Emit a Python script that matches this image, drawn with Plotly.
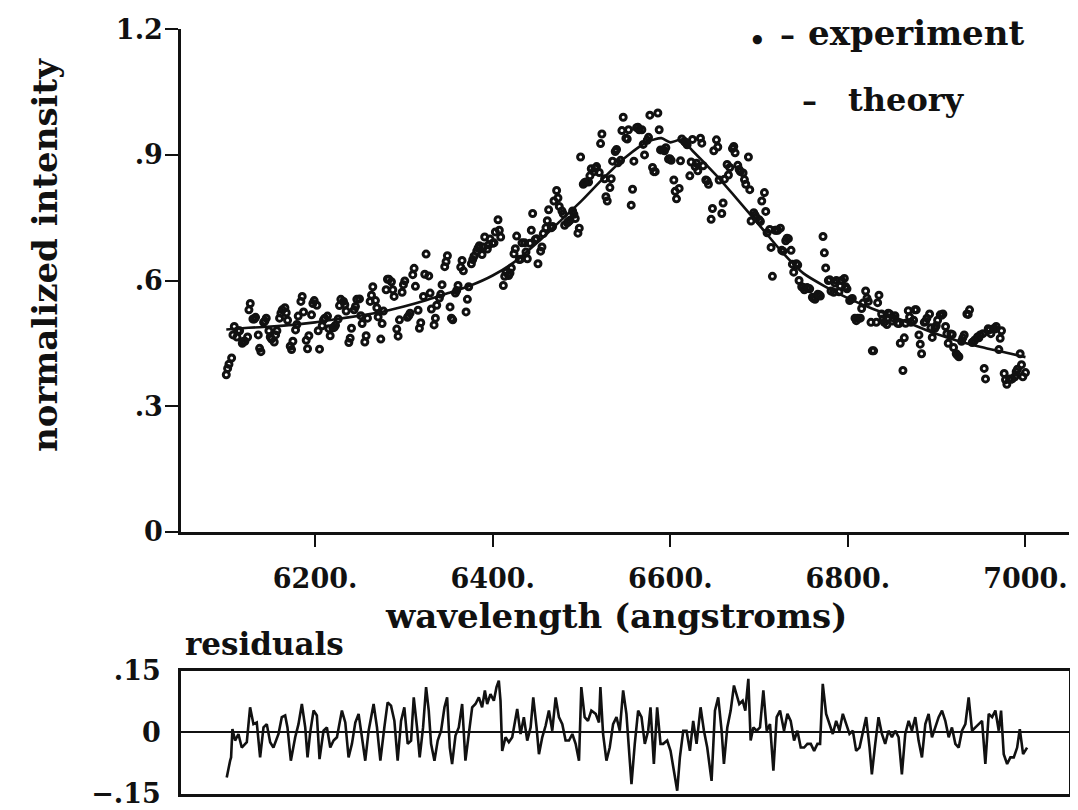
import plotly.graph_objects as go

# ---------------- data ----------------
# experiment (set A): normalized intensity read every 3 angstroms from 6100 to 7000
exp_start = 6100
exp_step = 3
exp_val = [
    .375, .40, .415, .49, .465, .48, .45, .455, .465, .545,
    .508, .512, .47, .43, .50, .51, .48, .46, .453, .48,
    .51, .53, .535, .505, .443, .455, .482, .515, .55, .525,
    .457, .468, .518, .552, .541, .436, .492, .51, .515, .468,
    .487, .493, .508, .555, .55, .527, .452, .486, .53, .555,
    .556, .497, .453, .51, .55, .585, .552, .513, .46, .527,
    .578, .603, .597, .562, .484, .506, .572, .599, .512, .522,
    .614, .586, .529, .499, .562, .663, .611, .532, .494, .541,
    .558, .59, .633, .659, .537, .506, .57, .588, .632, .623,
    .525, .585, .64, .658, .67, .683, .662, .704, .675, .699,
    .689, .716, .745, .704, .588, .62, .612, .63, .664, .706,
    .65, .69, .69, .652, .689, .76, .698, .64, .67, .712,
    .726, .769, .726, .79, .815, .777, .766, .732, .738, .744,
    .766, .748, .713, .895, .83, .835, .835, .867, .86, .872,
    .858, .95, .843, .79, .822, .885, .908, .881, .887, .99,
    .94, .96, .78, .885, .965, .96, .96, .9, .935, .995,
    .87, .86, 1.0, .912, .912, .917, .89, .887, .84, .795,
    .82, .938, .932, .924, .85, .937, .872, .862, .94, .874,
    .84, .83, .746, .91, .936, .84, .76, .842, .877, .87,
    .915, .905, .875, .86, .857, .83, .895, .742, .762, .75,
    .745, .79, .81, .714, .722, .61, .72, .72, .725, .67,
    .695, .7, .672, .62, .64, .6, .585, .578, .583, .58,
    .56, .555, .567, .563, .705, .63, .6, .575, .572, .6,
    .573, .6, .605, .58, .552, .557, .51, .51, .51, .546,
    .575, .55, .5, .432, .5, .565, .52, .5, .495, .52,
    .503, .516, .498, .45, .385, .498, .528, .5, .505, .53,
    .47, .425, .5, .51, .52, .464, .486, .505, .518, .52,
    .49, .45, .472, .44, .425, .418, .455, .47, .52, .53,
    .452, .458, .465, .47, .473, .365, .485, .473, .485, .49,
    .435, .48, .378, .352, .365, .365, .37, .388, .425, .37,
    .38,
]
exp_wl = [exp_start + exp_step * i for i in range(len(exp_val))]

# experiment (set B): interleaved readings every 6 angstroms from 6101.5
exp2_start = 6101.5
exp2_step = 6
exp2_val = [
    .39, .47, .48, .455, .53, .508, .438, .503, .465, .47,
    .522, .523, .435, .495, .562, .437, .545, .48, .506, .485,
    .488, .54, .542, .462, .538, .516, .468, .565, .535, .497,
    .603, .578, .467, .59, .516, .629, .486, .615, .57, .51,
    .567, .645, .51, .576, .648, .555, .65, .677, .68, .685,
    .69, .72, .61, .618, .676, .651, .668, .72, .70, .68,
    .743, .729, .797, .759, .741, .758, .725, .834, .85, .868,
    .927, .80, .843, .913, .958, .938, .818, .966, .925, .942,
    .86, .96, .91, .891, .813, .886, .929, .883, .88, .928,
    .838, .772, .919, .785, .852, .92, .865, .841, .817, .756,
    .741, .765, .679, .72, .672, .701, .639, .637, .583, .581,
    .557, .566, .666, .602, .594, .587, .585, .555, .504, .533,
    .558, .432, .547, .508, .522, .51, .497, .463, .513, .53,
    .448, .502, .487, .492, .517, .473, .471, .421, .463, .519,
    .454, .463, .39, .482, .484, .462, .363, .364, .382, .399,
]
exp2_wl = [exp2_start + exp2_step * i for i in range(len(exp2_val))]

theo_wl = [6100, 6125, 6150, 6175, 6200, 6225, 6250, 6275, 6300, 6325, 6350, 6375,
           6400, 6425, 6450, 6475, 6500, 6525, 6550, 6575, 6590, 6600, 6612, 6625,
           6650, 6675, 6700, 6725, 6750, 6775, 6800, 6825, 6850, 6875, 6900, 6925,
           6950, 6975, 7000]
theo_val = [.483, .487, .490, .494, .500, .508, .516, .525, .538, .553, .570, .588,
            .612, .645, .690, .740, .790, .845, .895, .932, .940, .930, .936, .910,
            .855, .795, .733, .670, .617, .585, .558, .535, .515, .493, .472, .455,
            .441, .429, .417]

res_wl = [6100.5, 6102.4, 6104.3, 6105.4, 6106.9, 6109.9, 6113.7, 6117.4, 6123.1, 6126.8,
          6130.6, 6134.3, 6138.1, 6141.9, 6145.6, 6149.4, 6153.1, 6158.8, 6162.5, 6166.3,
          6168.9, 6172.7, 6177.6, 6181.3, 6185.1, 6188.9, 6191.5, 6194.5, 6198.3, 6202.0,
          6205.0, 6209.5, 6213.3, 6217.1, 6220.8, 6224.6, 6230.2, 6234.0, 6237.7, 6241.5,
          6245.3, 6249.0, 6252.8, 6256.5, 6260.3, 6265.9, 6269.7, 6273.5, 6278.0, 6281.7,
          6285.5, 6289.3, 6293.0, 6296.8, 6300.5, 6304.3, 6308.1, 6311.1, 6314.8, 6317.8,
          6321.6, 6325.0, 6328.0, 6330.6, 6334.4, 6338.1, 6341.9, 6345.7, 6348.7, 6351.7,
          6354.3, 6358.1, 6361.8, 6365.6, 6369.3, 6373.1, 6376.9, 6380.6, 6384.4, 6388.1,
          6391.2, 6393.8, 6397.5, 6401.3, 6404.3, 6406.9, 6408.8, 6410.7, 6414.5, 6418.2,
          6422.0, 6427.6, 6431.4, 6435.1, 6438.9, 6442.7, 6445.7, 6449.4, 6452.1, 6455.8,
          6459.6, 6463.3, 6467.1, 6470.9, 6474.6, 6478.4, 6482.1, 6485.9, 6489.7, 6493.4,
          6497.2, 6499.8, 6503.6, 6507.3, 6511.1, 6516.0, 6519.7, 6521.3, 6524.3, 6528.1,
          6531.8, 6535.6, 6539.4, 6543.1, 6546.9, 6550.6, 6556.3, 6560.0, 6563.8, 6567.6,
          6571.3, 6575.1, 6577.7, 6581.5, 6585.2, 6589.0, 6592.0, 6596.5, 6600.3, 6604.0,
          6607.8, 6610.8, 6614.6, 6618.3, 6622.1, 6625.8, 6629.6, 6634.1, 6637.9, 6641.6,
          6646.5, 6650.3, 6654.0, 6657.8, 6660.4, 6664.2, 6668.0, 6671.7, 6674.7, 6677.7,
          6681.5, 6684.5, 6687.9, 6690.5, 6693.5, 6697.3, 6701.0, 6704.8, 6708.6, 6712.3,
          6716.1, 6719.8, 6723.6, 6728.1, 6731.9, 6735.6, 6739.4, 6743.2, 6746.9, 6750.7,
          6754.4, 6758.2, 6762.0, 6765.7, 6768.7, 6771.7, 6775.5, 6779.2, 6783.0, 6786.8,
          6790.5, 6794.3, 6798.0, 6801.8, 6805.6, 6809.3, 6813.1, 6816.8, 6820.6, 6824.4,
          6827.0, 6830.8, 6834.5, 6838.3, 6842.0, 6845.8, 6849.6, 6853.3, 6857.1, 6860.8,
          6864.6, 6868.4, 6872.1, 6875.9, 6879.6, 6883.4, 6887.2, 6890.9, 6894.7, 6898.4,
          6902.2, 6906.0, 6909.7, 6913.5, 6917.2, 6921.0, 6924.8, 6928.5, 6932.3, 6936.0,
          6939.8, 6943.6, 6947.3, 6951.1, 6954.8, 6958.6, 6962.4, 6966.1, 6969.9, 6972.5,
          6975.5, 6979.3, 6983.0, 6986.8, 6990.6, 6993.6, 6997.3, 7001.8]
res_val = [-.110, -.085, -.069, -.061, .008, -.020, -.004, -.037, -.024, .061,
           .020, .024, -.061, .012, .020, -.024, -.037, -.004, .037, .041,
           .012, -.069, -.012, .020, .069, .012, -.061, .000, .053, .041,
           -.065, .004, .012, -.037, -.020, -.012, .053, .024, -.061, -.028,
           .024, .045, -.020, -.069, .004, .069, .012, -.069, .012, .073,
           .065, .028, -.069, .028, .061, -.028, -.020, .085, .012, -.061,
           .012, .110, .053, -.028, -.069, -.020, .004, .061, .085, -.037,
           -.077, -.008, .012, .069, -.069, -.004, .061, .069, .085, .061,
           .102, .069, .093, .077, .110, .126, .077, -.045, -.012, -.024,
           -.012, .057, -.004, .037, -.020, .012, .085, .012, -.053, -.012,
           .016, .053, .004, .085, .037, .020, -.020, -.020, -.004, -.028,
           -.069, .110, .037, .028, .053, .045, .024, .110, -.004, -.069,
           -.037, .020, .037, .004, .102, .045, -.126, -.028, .053, .037,
           -.028, .004, .061, -.077, .061, -.028, -.028, -.020, -.045, -.093,
           -.142, -.061, .004, .004, -.045, .028, -.028, .061, .004, -.037,
           -.118, .053, .085, .004, -.077, .012, .053, .114, .093, .069,
           .077, .053, .130, -.020, .012, .004, .012, .102, .004, .020,
           -.093, .037, .053, .004, .045, .028, -.020, .004, -.037, -.037,
           -.028, -.028, -.045, -.028, -.028, .118, .045, .020, -.004, .028,
           .004, .045, .020, -.004, .004, -.045, -.037, .004, .037, -.037,
           -.102, -.028, .037, -.004, -.028, .004, -.012, .004, -.012, -.102,
           -.004, .028, .004, .037, -.020, -.061, .020, .045, -.012, .012,
           .037, .053, .028, -.012, .012, -.028, -.037, .004, .020, .085,
           .004, .012, .020, .028, -.077, .045, .037, .053, .004, .053,
           -.053, -.077, -.061, -.061, -.037, .008, -.053, -.037]

main_ticks = [6200, 6400, 6600, 6800, 7000]
main_ticktext = ["6200.", "6400.", "6600.", "6800.", "7000."]
y_ticks = [0, 0.3, 0.6, 0.9, 1.2]
y_ticktext = ["0", ".3", ".6", ".9", "1.2"]
res_ticks = [-0.15, 0, 0.15]
res_ticktext = ["\u2212.15", "0", ".15"]

# ---------------- figure ----------------
W, H = 1078, 810
OFF = 8  # page body margin in the browser
FONT = "DejaVu Serif"
BLACK = "#111111"

def fx(p):
    return (p - OFF) / W

def fy(p):
    return (H - (p - OFF)) / H

marker_style = dict(symbol="circle-open", size=6, color=BLACK,
                    line=dict(width=3, color=BLACK))

fig = go.Figure()
fig.add_trace(go.Scatter(
    x=exp_wl, y=exp_val, mode="markers", name="experiment",
    marker=marker_style, xaxis="x", yaxis="y", showlegend=False))
fig.add_trace(go.Scatter(
    x=exp2_wl, y=exp2_val, mode="markers", name="experiment",
    marker=marker_style, xaxis="x", yaxis="y", showlegend=False))
fig.add_trace(go.Scatter(
    x=theo_wl, y=theo_val, mode="lines", name="theory",
    line=dict(color=BLACK, width=2.6, shape="spline", smoothing=0.7),
    xaxis="x", yaxis="y", showlegend=False))
fig.add_trace(go.Scatter(
    x=res_wl, y=res_val, mode="lines", name="residuals",
    line=dict(color=BLACK, width=2.6),
    xaxis="x2", yaxis="y2", showlegend=False))

xdom = [fx(181), fx(1069)]
xr = [6049, 7049]

tickfont = dict(family=FONT, size=27, color=BLACK, weight="bold")

fig.update_layout(
    width=W, height=H,
    margin=dict(l=0, r=0, t=0, b=0, autoexpand=False),
    paper_bgcolor="white", plot_bgcolor="white",
    font=dict(family=FONT, color=BLACK),
    xaxis=dict(domain=xdom, range=xr, anchor="y", automargin=False,
               tickvals=main_ticks, ticktext=main_ticktext,
               ticks="outside", ticklen=13, tickwidth=2, tickcolor=BLACK,
               showline=True, linewidth=2.5, linecolor=BLACK,
               showgrid=False, zeroline=False, tickfont=tickfont,
               ticklabelstandoff=8),
    yaxis=dict(domain=[fy(531.7), fy(29.3)], range=[0, 1.2], anchor="x", automargin=False,
               tickvals=y_ticks, ticktext=y_ticktext,
               ticks="outside", ticklen=13, tickwidth=2, tickcolor=BLACK,
               showline=True, linewidth=2.5, linecolor=BLACK,
               showgrid=False, zeroline=False, tickfont=tickfont,
               ticklabelstandoff=-3),
    xaxis2=dict(domain=xdom, range=xr, anchor="y2", automargin=False,
                showticklabels=False, ticks="",
                showline=True, mirror=True, linewidth=2.5, linecolor=BLACK,
                showgrid=False, zeroline=False),
    yaxis2=dict(domain=[fy(794), fy(670.7)], range=[-0.15, 0.15], anchor="x2", automargin=False,
                tickvals=res_ticks, ticktext=res_ticktext, ticks="",
                showline=True, mirror=True, linewidth=2.5, linecolor=BLACK,
                showgrid=False, zeroline=True, zerolinecolor=BLACK, zerolinewidth=2.2,
                tickfont=tickfont, ticklabelstandoff=12),
)

def ann(text, x, y, size, xanchor="center", yanchor="middle", angle=0):
    fig.add_annotation(text=text, x=fx(x), y=fy(y), xref="paper", yref="paper",
                       xanchor=xanchor, yanchor=yanchor, textangle=angle,
                       showarrow=False, font=dict(family=FONT, size=size, color=BLACK))

ann("<b>normalized intensity</b>", 45, 255, 34, angle=-90)
ann("<b>wavelength (angstroms)</b>", 616, 616, 34)
ann("<b>residuals</b>", 183, 644, 31, xanchor="left")
ann("<b>\u2022</b>", 757, 40, 26)
ann("<b>\u2013</b>", 787, 35, 30)
ann("<b>experiment</b>", 806, 33, 34, xanchor="left")
ann("<b>\u2013</b>", 809, 100, 30)
ann("<b>theory</b>", 846, 100, 32, xanchor="left")

fig.write_html("out.html")
